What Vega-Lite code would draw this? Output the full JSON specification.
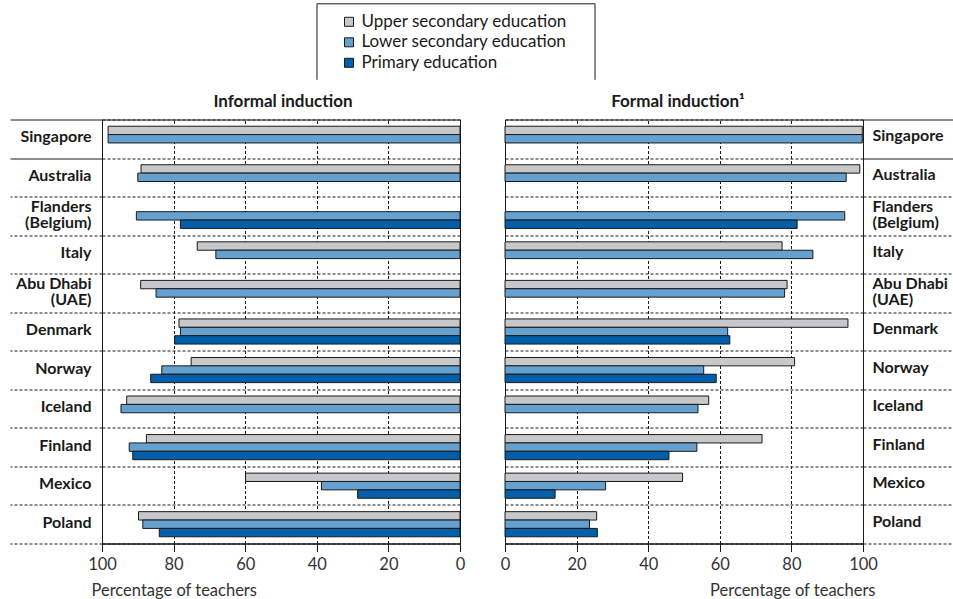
{
  "$schema": "https://vega.github.io/schema/vega-lite/v6.json",
  "background": "white",
  "padding": {"left": 9, "top": 2.5, "right": 0, "bottom": 0},
  "bounds": "flush",
  "spacing": 45,
  "datasets": {
    "edu": [
      {"country": "Singapore", "level": "Upper secondary education", "informal": 98.3, "formal": 99.8},
      {"country": "Singapore", "level": "Lower secondary education", "informal": 98.3, "formal": 99.8},
      {"country": "Australia", "level": "Upper secondary education", "informal": 89.1, "formal": 99.1},
      {"country": "Australia", "level": "Lower secondary education", "informal": 90.0, "formal": 95.3},
      {"country": "Flanders|(Belgium)", "level": "Lower secondary education", "informal": 90.4, "formal": 94.9},
      {"country": "Flanders|(Belgium)", "level": "Primary education", "informal": 78.1, "formal": 81.6},
      {"country": "Italy", "level": "Upper secondary education", "informal": 73.4, "formal": 77.4},
      {"country": "Italy", "level": "Lower secondary education", "informal": 68.2, "formal": 86.0},
      {"country": "Abu Dhabi|(UAE)", "level": "Upper secondary education", "informal": 89.2, "formal": 78.8},
      {"country": "Abu Dhabi|(UAE)", "level": "Lower secondary education", "informal": 84.9, "formal": 78.1},
      {"country": "Denmark", "level": "Upper secondary education", "informal": 78.5, "formal": 95.8},
      {"country": "Denmark", "level": "Lower secondary education", "informal": 78.1, "formal": 62.2},
      {"country": "Denmark", "level": "Primary education", "informal": 79.7, "formal": 62.8},
      {"country": "Norway", "level": "Upper secondary education", "informal": 75.1, "formal": 80.9},
      {"country": "Norway", "level": "Lower secondary education", "informal": 83.3, "formal": 55.5},
      {"country": "Norway", "level": "Primary education", "informal": 86.4, "formal": 59.0},
      {"country": "Iceland", "level": "Upper secondary education", "informal": 93.1, "formal": 56.9},
      {"country": "Iceland", "level": "Lower secondary education", "informal": 94.7, "formal": 53.9},
      {"country": "Finland", "level": "Upper secondary education", "informal": 87.6, "formal": 71.8},
      {"country": "Finland", "level": "Lower secondary education", "informal": 92.4, "formal": 53.6},
      {"country": "Finland", "level": "Primary education", "informal": 91.4, "formal": 45.8},
      {"country": "Mexico", "level": "Upper secondary education", "informal": 59.9, "formal": 49.6},
      {"country": "Mexico", "level": "Lower secondary education", "informal": 38.7, "formal": 28.1},
      {"country": "Mexico", "level": "Primary education", "informal": 28.6, "formal": 14.0},
      {"country": "Poland", "level": "Upper secondary education", "informal": 89.8, "formal": 25.6},
      {"country": "Poland", "level": "Lower secondary education", "informal": 88.6, "formal": 23.6},
      {"country": "Poland", "level": "Primary education", "informal": 84.0, "formal": 25.8}
    ]
  },
  "config": {
    "font": "Lato",
    "view": {"stroke": "#1a1a1a", "strokeWidth": 1},
    "axis": {
      "domainColor": "#1a1a1a",
      "tickColor": "#1a1a1a",
      "gridColor": "#1a1a1a",
      "gridOpacity": 1,
      "gridDash": [3, 2],
      "gridWidth": 1
    },
    "legend": {
      "orient": "none",
      "legendX": 214.5,
      "legendY": -116.2,
      "padding": 10,
      "symbolOffset": 14,
      "symbolType": "square",
      "symbolSize": 81,
      "symbolStrokeColor": "#1a1a1a",
      "symbolStrokeWidth": 1,
      "labelFont": "Lato",
      "labelFontSize": 17,
      "labelColor": "#1a1a1a",
      "labelOffset": 4,
      "rowPadding": 2.5,
      "labelLimit": 400,
      "titleOrient": "right",
      "titleFontSize": 1,
      "titlePadding": 17,
      "titleColor": "white",
      "strokeColor": "#1a1a1a",
      "strokeWidth": 1,
      "strokeDash": [354, 282, 76, 0]
    }
  },
  "resolve": {"scale": {"color": "shared"}},
  "hconcat": [
    {
      "width": 358,
      "height": 424,
      "title": {"text": "Informal induction", "fontSize": 17, "fontWeight": "bold", "color": "#1a1a1a", "offset": 1, "dx": 2, "frame": "group", "anchor": "middle"},
      "data": {"name": "edu"},
      "mark": {"type": "bar", "stroke": "#1a1a1a", "strokeWidth": 1},
      "encoding": {
        "y": {
          "field": "country", "type": "nominal",
          "sort": ["Singapore", "Australia", "Flanders|(Belgium)", "Italy", "Abu Dhabi|(UAE)", "Denmark", "Norway", "Iceland", "Finland", "Mexico", "Poland"],
          "scale": {"paddingInner": 0, "paddingOuter": 0},
          "axis": {
            "orient": "left", "title": null, "domain": false,
            "tickBand": "extent", "tickSize": 92, "tickColor": "#1a1a1a",
            "tickDash": {"condition": {"test": "!isValid(datum.value) || datum.value === 'Singapore'", "value": []}, "value": [3, 2]},
            "grid": true,
            "labelExpr": "isValid(datum.value) ? split(datum.value, '|') : ''",
            "labelPadding": -81,
            "labelOffset": {"condition": {"test": "isValid(datum.value) && indexof(datum.value, '|') >= 0", "value": -9}, "value": -2},
            "labelFontSize": 16, "labelFontWeight": "bold", "labelColor": "#1a1a1a", "labelLineHeight": 16,
            "labelLimit": 200
          }
        },
        "yOffset": {
          "field": "level", "type": "nominal",
          "scale": {"domain": ["Upper secondary education", "Lower secondary education", "Primary education"], "paddingInner": 0, "paddingOuter": 0.8}
        },
        "x": {
          "field": "informal", "type": "quantitative",
          "scale": {"domain": [0, 100], "reverse": true, "nice": false},
          "axis": {
            "title": "Percentage of teachers", "values": [0, 20, 40, 60, 80, 100],
            "grid": true, "tickSize": 8, "labelFlush": false, "labelOverlap": false,
            "labelFontSize": 16.5, "labelColor": "#333333", "labelPadding": 5,
            "titleFontSize": 16.5, "titleFontWeight": "normal", "titleColor": "#333333",
            "titleAlign": "left", "titleX": -11, "titleY": 52, "titleBaseline": "alphabetic"
          }
        },
        "color": {
          "field": "level", "type": "nominal",
          "scale": {"domain": ["Upper secondary education", "Lower secondary education", "Primary education"], "range": ["#c7c8ca", "#66a0cf", "#005fa8"]},
          "legend": {"title": "\u00a0"}
        }
      }
    },
    {
      "width": 358,
      "height": 424,
      "title": {"text": "Formal induction¹", "fontSize": 17, "fontWeight": "bold", "color": "#1a1a1a", "offset": 1, "dx": -6, "frame": "group", "anchor": "middle"},
      "data": {"name": "edu"},
      "mark": {"type": "bar", "stroke": "#1a1a1a", "strokeWidth": 1},
      "encoding": {
        "y": {
          "field": "country", "type": "nominal",
          "sort": ["Singapore", "Australia", "Flanders|(Belgium)", "Italy", "Abu Dhabi|(UAE)", "Denmark", "Norway", "Iceland", "Finland", "Mexico", "Poland"],
          "scale": {"paddingInner": 0, "paddingOuter": 0},
          "axis": {
            "orient": "right", "title": null, "domain": false,
            "tickBand": "extent", "tickSize": 91, "tickColor": "#1a1a1a",
            "tickDash": {"condition": {"test": "!isValid(datum.value) || datum.value === 'Singapore'", "value": []}, "value": [3, 2]},
            "grid": true,
            "labelExpr": "isValid(datum.value) ? split(datum.value, '|') : ''",
            "labelPadding": -82,
            "labelOffset": {"condition": {"test": "isValid(datum.value) && indexof(datum.value, '|') >= 0", "value": -9}, "value": -3},
            "labelFontSize": 16, "labelFontWeight": "bold", "labelColor": "#1a1a1a", "labelLineHeight": 16,
            "labelLimit": 200
          }
        },
        "yOffset": {
          "field": "level", "type": "nominal",
          "scale": {"domain": ["Upper secondary education", "Lower secondary education", "Primary education"], "paddingInner": 0, "paddingOuter": 0.8}
        },
        "x": {
          "field": "formal", "type": "quantitative",
          "scale": {"domain": [0, 100], "nice": false},
          "axis": {
            "title": "Percentage of teachers", "values": [0, 20, 40, 60, 80, 100],
            "grid": true, "tickSize": 8, "labelFlush": false, "labelOverlap": false,
            "labelFontSize": 16.5, "labelColor": "#333333", "labelPadding": 5,
            "titleFontSize": 16.5, "titleFontWeight": "normal", "titleColor": "#333333",
            "titleAlign": "right", "titleX": 370, "titleY": 52, "titleBaseline": "alphabetic"
          }
        },
        "color": {
          "field": "level", "type": "nominal",
          "scale": {"domain": ["Upper secondary education", "Lower secondary education", "Primary education"], "range": ["#c7c8ca", "#66a0cf", "#005fa8"]},
          "legend": {"title": "\u00a0"}
        }
      }
    }
  ]
}
